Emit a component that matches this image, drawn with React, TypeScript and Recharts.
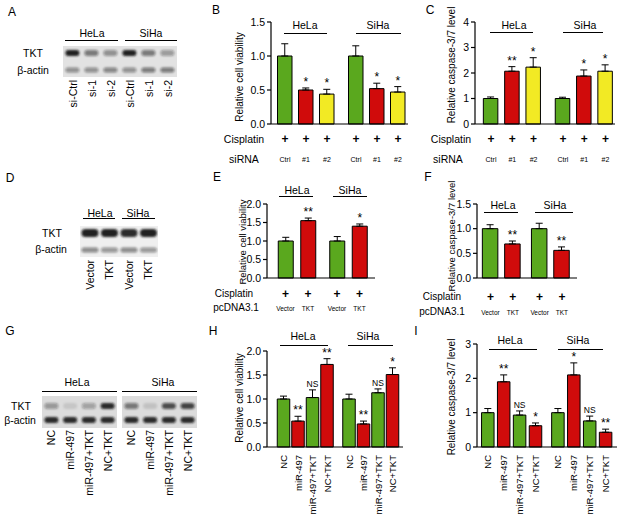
import React from 'react';
import { BarChart, Bar, XAxis, YAxis, ErrorBar, LabelList, Cell, CartesianGrid } from 'recharts';

const FONT = '"Liberation Sans", Arial, Helvetica, sans-serif';
const GREEN = '#5aa81e';
const RED = '#d00b0b';
const YELLOW = '#f2ea24';

// B / C: siRNA knockdown
const siRnaLabels = ['Ctrl', '#1', '#2', 'Ctrl', '#1', '#2'];
const siRnaColors = [GREEN, RED, YELLOW, GREEN, RED, YELLOW];
const bViability = [1.0, 0.5, 0.44, 1.0, 0.52, 0.47];
const bViabilityErr = [0.18, 0.03, 0.07, 0.15, 0.08, 0.08];
const bSig = ['', '*', '*', '', '*', '*'];
const cCaspase = [1.0, 2.07, 2.23, 1.0, 1.88, 2.07];
const cCaspaseErr = [0.06, 0.18, 0.37, 0.05, 0.24, 0.25];
const cSig = ['', '**', '*', '', '*', '*'];

// E / F: pcDNA3.1 overexpression
const pcLabels = ['Vector', 'TKT', 'Vector', 'TKT'];
const pcColors = [GREEN, RED, GREEN, RED];
const eViability = [1.0, 1.55, 1.0, 1.4];
const eViabilityErr = [0.1, 0.07, 0.12, 0.06];
const eSig = ['', '**', '', '*'];
const fCaspase = [1.0, 0.69, 1.0, 0.56];
const fCaspaseErr = [0.08, 0.06, 0.11, 0.07];
const fSig = ['', '**', '', '**'];

// H / I: miR-497 rescue
const rescueLabels = ['NC', 'miR-497', 'miR-497+TKT', 'NC+TKT', 'NC', 'miR-497', 'miR-497+TKT', 'NC+TKT'];
const rescueColors = [GREEN, RED, GREEN, RED, GREEN, RED, GREEN, RED];
const hViability = [1.0, 0.54, 1.03, 1.72, 1.0, 0.48, 1.13, 1.51];
const hViabilityErr = [0.06, 0.1, 0.16, 0.12, 0.1, 0.06, 0.08, 0.14];
const hSig = ['', '**', 'NS', '**', '', '**', 'NS', '*'];
const iCaspase = [1.0, 1.9, 0.93, 0.62, 1.0, 2.1, 0.76, 0.43];
const iCaspaseErr = [0.12, 0.2, 0.12, 0.08, 0.12, 0.35, 0.14, 0.09];
const iSig = ['', '**', 'NS', '*', '', '*', 'NS', '**'];

// western blots, band darkness 0..1
const aLanes = ['si-Ctrl', 'si-1', 'si-2', 'si-Ctrl', 'si-1', 'si-2'];
const aTkt = [0.95, 0.5, 0.4, 0.95, 0.5, 0.35];
const aActin = [0.4, 0.4, 0.45, 0.4, 0.5, 0.5];
const dLanes = ['Vector', 'TKT', 'Vector', 'TKT'];
const dTkt = [0.95, 0.95, 0.9, 0.95];
const dActin = [0.45, 0.4, 0.45, 0.4];
const gLanes = ['NC', 'miR-497', 'miR-497+TKT', 'NC+TKT'];
const gTktHeLa = [0.35, 0.1, 0.3, 0.9];
const gTktSiHa = [0.5, 0.12, 0.7, 0.75];
const gActinHeLa = [0.9, 0.9, 0.9, 0.9];
const gActinSiHa = [0.9, 0.9, 0.9, 0.9];

function Txt({ x, y, children, size = 11, anchor = 'center', rotate = false, bold = false }: any) {
  const tx = anchor === 'center' ? '-50%' : anchor === 'left' ? '0%' : '-100%';
  return (
    <div
      style={{
        position: 'absolute',
        left: x,
        top: y,
        transform: `translate(${tx}, -50%)${rotate ? ' rotate(-90deg)' : ''}`,
        fontSize: size,
        fontWeight: bold ? 'bold' : 'normal',
        lineHeight: 1,
        whiteSpace: 'nowrap',
        color: '#000',
      }}
    >
      {children}
    </div>
  );
}

function GroupLine({ x1, x2, y }: { x1: number; x2: number; y: number }) {
  return <div style={{ position: 'absolute', left: x1, top: y, width: x2 - x1, borderTop: '1.3px solid #000' }} />;
}

interface Geo {
  axisX: number;
  right: number;
  top: number;
  bottom: number;
  first: number;
  unit: number;
  gap: number;
  barW: number;
}

interface SigBarProps {
  values: number[];
  errors: number[];
  sig: string[];
  colors: string[];
  labels: string[];
  yMax: number;
  yTicks: number[];
  decimals: number;
  geo: Geo;
  mode: 'plus' | 'rotated';
  plusDy?: number;
  labDy?: number;
  labSize?: number;
}

function SigBarChart({ values, errors, sig, colors, labels, yMax, yTicks, decimals, geo, mode, plusDy = 15, labDy = 35, labSize = 7 }: SigBarProps) {
  const half = values.length / 2;
  const gapU = geo.gap / geo.unit;
  const positions = values.map((_, i) => i + (i >= half ? gapU : 0));
  const data = values.map((v, i) => ({
    pos: positions[i],
    value: v,
    err: errors[i],
    errRange: [0, errors[i]],
    sig: sig[i],
    color: colors[i],
  }));
  const dMin = -(geo.first - geo.axisX) / geo.unit;
  const dMax = dMin + (geo.right - geo.axisX) / geo.unit;
  const yW = 34;
  const mt = 30;
  const mr = 6;
  const xh = mode === 'rotated' ? 70 : 45;
  const plotW = geo.right - geo.axisX;
  const plotH = geo.bottom - geo.top;
  const width = yW + plotW + mr;
  const height = mt + plotH + xh;

  const idxAt = (cx: number) => {
    let best = 0;
    let bd = Infinity;
    positions.forEach((p, i) => {
      const d = Math.abs(yW + (p - dMin) * geo.unit - cx);
      if (d < bd) {
        bd = d;
        best = i;
      }
    });
    return best;
  };

  const renderSig = (p: any) => {
    const vb = p.viewBox ?? p;
    const x = vb.x ?? p.x;
    const y = vb.y ?? p.y;
    const w = vb.width ?? p.width;
    const h = vb.height ?? p.height;
    const d = data[idxAt(x + w / 2)];
    if (!d.sig) return null;
    const errTop = y - d.err * (h / d.value);
    const isNS = d.sig === 'NS';
    return (
      <text
        x={x + w / 2}
        y={errTop - (isNS ? 3 : 2)}
        textAnchor="middle"
        fontSize={isNS ? 8.5 : 12}
        fontFamily={FONT}
        fill="#000"
      >
        {d.sig}
      </text>
    );
  };

  const tickRenderer = (p: any) => {
    const i = positions.findIndex((q) => Math.abs(q - p.payload.value) < 1e-6);
    if (i < 0) return <g />;
    if (mode === 'rotated') {
      const ty = p.y + 8;
      return (
        <text
          x={p.x}
          y={ty}
          transform={`rotate(-90 ${p.x} ${ty})`}
          textAnchor="end"
          dominantBaseline="central"
          fontSize={9.5}
          fontFamily={FONT}
          fill="#000"
        >
          {labels[i]}
        </text>
      );
    }
    return (
      <g>
        <text x={p.x} y={p.y + plusDy} textAnchor="middle" dominantBaseline="central" fontSize={12} fontWeight="bold" fontFamily={FONT} fill="#000">
          +
        </text>
        <text x={p.x} y={p.y + labDy} textAnchor="middle" dominantBaseline="central" fontSize={labSize} fontFamily={FONT} fill="#000">
          {labels[i]}
        </text>
      </g>
    );
  };

  return (
    <div style={{ position: 'absolute', left: geo.axisX - yW, top: geo.top - mt }}>
      <BarChart width={width} height={height} data={data} margin={{ top: mt, right: mr, bottom: 0, left: 0 }}>
        <XAxis
          type="number"
          dataKey="pos"
          domain={[dMin, dMax]}
          allowDataOverflow
          ticks={positions}
          interval={0}
          tickLine={false}
          tickSize={0}
          tickMargin={0}
          height={xh}
          axisLine={{ stroke: '#000', strokeWidth: 1.2 }}
          tick={tickRenderer}
        />
        <YAxis
          type="number"
          domain={[0, yMax]}
          ticks={yTicks}
          interval={0}
          width={yW}
          tickSize={4}
          tickMargin={2}
          tickFormatter={(v: number) => v.toFixed(decimals)}
          axisLine={{ stroke: '#000', strokeWidth: 1.2 }}
          tickLine={{ stroke: '#000', strokeWidth: 1.2 }}
          tick={{ fontSize: 10.5, fill: '#000', fontFamily: FONT }}
        />
        <Bar dataKey="value" barSize={geo.barW} stroke="#000" strokeWidth={1} isAnimationActive={false}>
          {data.map((d, i) => (
            <Cell key={`c-${i}`} fill={d.color} />
          ))}
          <ErrorBar dataKey="errRange" width={3.5} stroke="#000" strokeWidth={1} direction="y" />
          <LabelList dataKey="sig" content={renderSig} />
        </Bar>
      </BarChart>
    </div>
  );
}

interface BlotProps {
  lanes: string[];
  tkt: number[];
  actin: number[];
  left: number;
  top: number;
  width: number;
  plotH: number;
  bg: string;
  tktY: number;
  actinY: number;
  tktH: number;
  actinH: number;
  labelTop: number;
  catGap?: string;
}

function Blot({ lanes, tkt, actin, left, top, width, plotH, bg, tktY, actinY, tktH, actinH, labelTop, catGap = '10%' }: BlotProps) {
  const data = lanes.map((lane, i) => ({ lane, tkt: tkt[i], actin: actin[i] }));
  const xh = 80;
  const bandShape = (p: any) => {
    const d = p.payload;
    return (
      <g>
        <rect x={p.x + 0.5} y={tktY - tktH / 2} width={p.width - 1} height={tktH} rx={tktH / 2} fill="#151515" fillOpacity={d.tkt} filter="url(#blot-blur)" />
        <rect x={p.x + 0.5} y={actinY - actinH / 2} width={p.width - 1} height={actinH} rx={actinH / 2} fill="#151515" fillOpacity={d.actin} filter="url(#blot-blur)" />
      </g>
    );
  };
  const laneTick = (p: any) => (
    <text
      x={p.x}
      y={labelTop}
      transform={`rotate(-90 ${p.x} ${labelTop})`}
      textAnchor="end"
      dominantBaseline="central"
      fontSize={10.5}
      fontFamily={FONT}
      fill="#000"
    >
      {p.payload.value}
    </text>
  );
  return (
    <div style={{ position: 'absolute', left, top }}>
      <BarChart width={width} height={plotH + xh} data={data} margin={{ top: 0, right: 0, bottom: 0, left: 0 }} barCategoryGap={catGap}>
        <CartesianGrid fill={bg} horizontal={false} vertical={false} stroke="none" />
        <XAxis dataKey="lane" interval={0} axisLine={false} tickLine={false} height={xh} tick={laneTick} />
        <YAxis hide domain={[0, 1]} />
        <Bar dataKey="tkt" shape={bandShape} isAnimationActive={false} />
      </BarChart>
    </div>
  );
}

export default function App() {
  return (
    <div style={{ position: 'absolute', left: 0, top: 0, width: 625, height: 520, background: '#fff', fontFamily: FONT, overflow: 'hidden' }}>
      <svg width={0} height={0} style={{ position: 'absolute' }}>
        <defs>
          <filter id="blot-blur" x="-30%" y="-80%" width="160%" height="260%">
            <feGaussianBlur stdDeviation="0.9" />
          </filter>
        </defs>
      </svg>

      {/* A */}
      <Txt x={12} y={12} size={12}>A</Txt>
      <Txt x={92} y={33} size={10.5}>HeLa</Txt>
      <GroupLine x1={65} x2={118} y={40} />
      <Txt x={151} y={33} size={10.5}>SiHa</Txt>
      <GroupLine x1={125} x2={177} y={40} />
      <Txt x={33} y={53} size={10.5}>TKT</Txt>
      <Txt x={33} y={70} size={10.5}>β-actin</Txt>
      <Blot lanes={aLanes} tkt={aTkt} actin={aActin} left={63} top={46} width={114} plotH={31} bg="#e2e2e2" tktY={7} actinY={24} tktH={6} actinH={5} labelTop={34} />

      {/* B */}
      <Txt x={216} y={10} size={12}>B</Txt>
      <Txt x={305} y={25} size={10.5}>HeLa</Txt>
      <GroupLine x1={284} x2={327} y={33} />
      <Txt x={378} y={25} size={10.5}>SiHa</Txt>
      <GroupLine x1={356} x2={401} y={33} />
      <Txt x={240} y={77} size={10} rotate>Relative cell viability</Txt>
      <SigBarChart values={bViability} errors={bViabilityErr} sig={bSig} colors={siRnaColors} labels={siRnaLabels} yMax={1.5} yTicks={[0, 0.5, 1, 1.5]} decimals={1}
        geo={{ axisX: 271, right: 408, top: 22, bottom: 124, first: 285, unit: 21, gap: 8, barW: 14.5 }} mode="plus" plusDy={15} labDy={35} />
      <Txt x={244} y={139} size={10.5}>Cisplatin</Txt>
      <Txt x={244} y={159} size={10.5}>siRNA</Txt>

      {/* C */}
      <Txt x={430} y={10} size={12}>C</Txt>
      <Txt x={514} y={25} size={10.5}>HeLa</Txt>
      <GroupLine x1={490} x2={533} y={32} />
      <Txt x={585} y={25} size={10.5}>SiHa</Txt>
      <GroupLine x1={563} x2={603} y={32} />
      <Txt x={452} y={65} size={10} rotate>Relative caspase-3/7 level</Txt>
      <SigBarChart values={cCaspase} errors={cCaspaseErr} sig={cSig} colors={siRnaColors} labels={siRnaLabels} yMax={4} yTicks={[0, 1, 2, 3, 4]} decimals={0}
        geo={{ axisX: 475, right: 615, top: 22, bottom: 124, first: 491, unit: 21.3, gap: 8, barW: 14.5 }} mode="plus" plusDy={15} labDy={35} />
      <Txt x={451} y={139} size={10.5}>Cisplatin</Txt>
      <Txt x={448} y={159} size={10.5}>siRNA</Txt>

      {/* D */}
      <Txt x={10} y={178} size={12}>D</Txt>
      <Txt x={100} y={213} size={10.5}>HeLa</Txt>
      <GroupLine x1={83} x2={115} y={218} />
      <Txt x={138} y={213} size={10.5}>SiHa</Txt>
      <GroupLine x1={122} x2={155} y={218} />
      <Txt x={52} y={233} size={10.5}>TKT</Txt>
      <Txt x={51} y={249} size={10.5}>β-actin</Txt>
      <Blot lanes={dLanes} tkt={dTkt} actin={dActin} left={80} top={226} width={78} plotH={31} bg="#efefef" tktY={7} actinY={24} tktH={8} actinH={5} labelTop={34} catGap="5%" />

      {/* E */}
      <Txt x={217} y={177} size={12}>E</Txt>
      <Txt x={297} y={190} size={10.5}>HeLa</Txt>
      <GroupLine x1={279} x2={313} y={196} />
      <Txt x={350} y={190} size={10.5}>SiHa</Txt>
      <GroupLine x1={333} x2={367} y={196} />
      <Txt x={243} y={242} size={9.5} rotate>Relative cell viability</Txt>
      <SigBarChart values={eViability} errors={eViabilityErr} sig={eSig} colors={pcColors} labels={pcLabels} yMax={2} yTicks={[0, 0.5, 1, 1.5, 2]} decimals={1}
        geo={{ axisX: 267, right: 375, top: 204, bottom: 278, first: 285.5, unit: 22.5, gap: 6.5, barW: 15 }} mode="plus" plusDy={16} labDy={30} labSize={6.5} />
      <Txt x={234} y={294} size={10}>Cisplatin</Txt>
      <Txt x={236} y={308} size={10}>pcDNA3.1</Txt>

      {/* F */}
      <Txt x={428} y={177} size={12}>F</Txt>
      <Txt x={503} y={205} size={10.5}>HeLa</Txt>
      <GroupLine x1={484} x2={518} y={212} />
      <Txt x={555} y={205} size={10.5}>SiHa</Txt>
      <GroupLine x1={535} x2={573} y={212} />
      <Txt x={452} y={236} size={9.5} rotate>Relative caspase-3/7 level</Txt>
      <SigBarChart values={fCaspase} errors={fCaspaseErr} sig={fSig} colors={pcColors} labels={pcLabels} yMax={1.5} yTicks={[0, 0.5, 1, 1.5]} decimals={1}
        geo={{ axisX: 477, right: 577, top: 204, bottom: 278, first: 490.5, unit: 22.3, gap: 4.5, barW: 15.5 }} mode="plus" plusDy={19} labDy={34} labSize={6.5} />
      <Txt x={442} y={297} size={10}>Cisplatin</Txt>
      <Txt x={442} y={312} size={10}>pcDNA3.1</Txt>

      {/* G */}
      <Txt x={10} y={331} size={12}>G</Txt>
      <Txt x={77} y={382} size={10.5}>HeLa</Txt>
      <GroupLine x1={42} x2={117} y={391} />
      <Txt x={163} y={382} size={10.5}>SiHa</Txt>
      <GroupLine x1={122} x2={197} y={391} />
      <Txt x={21} y={406} size={10.5}>TKT</Txt>
      <Txt x={20} y={420} size={10.5}>β-actin</Txt>
      <Blot lanes={gLanes} tkt={gTktHeLa} actin={gActinHeLa} left={42} top={396} width={75} plotH={32} bg="#dcdcdc" tktY={10} actinY={24} tktH={6} actinH={6} labelTop={34} />
      <Blot lanes={gLanes} tkt={gTktSiHa} actin={gActinSiHa} left={122} top={396} width={75} plotH={32} bg="#dcdcdc" tktY={10} actinY={24} tktH={6} actinH={6} labelTop={34} />

      {/* H */}
      <Txt x={213} y={331} size={12}>H</Txt>
      <Txt x={303} y={336} size={10.5}>HeLa</Txt>
      <GroupLine x1={280} x2={328} y={345} />
      <Txt x={368} y={336} size={10.5}>SiHa</Txt>
      <GroupLine x1={348} x2={393} y={345} />
      <Txt x={240} y={398} size={10} rotate>Relative cell viability</Txt>
      <SigBarChart values={hViability} errors={hViabilityErr} sig={hSig} colors={rescueColors} labels={rescueLabels} yMax={2} yTicks={[0, 0.5, 1, 1.5, 2]} decimals={1}
        geo={{ axisX: 267, right: 403, top: 351, bottom: 447, first: 283.5, unit: 14.5, gap: 7.5, barW: 12.5 }} mode="rotated" />

      {/* I */}
      <Txt x={416} y={331} size={12}>I</Txt>
      <Txt x={510} y={340} size={10.5}>HeLa</Txt>
      <GroupLine x1={489} x2={537} y={349} />
      <Txt x={578} y={340} size={10.5}>SiHa</Txt>
      <GroupLine x1={558} x2={603} y={349} />
      <Txt x={452} y={397} size={10} rotate>Relative caspase-3/7 level</Txt>
      <SigBarChart values={iCaspase} errors={iCaspaseErr} sig={iSig} colors={rescueColors} labels={rescueLabels} yMax={3} yTicks={[0, 1, 2, 3]} decimals={0}
        geo={{ axisX: 477, right: 617, top: 344, bottom: 447, first: 487.5, unit: 15.9, gap: 6.5, barW: 12.5 }} mode="rotated" />
    </div>
  );
}
